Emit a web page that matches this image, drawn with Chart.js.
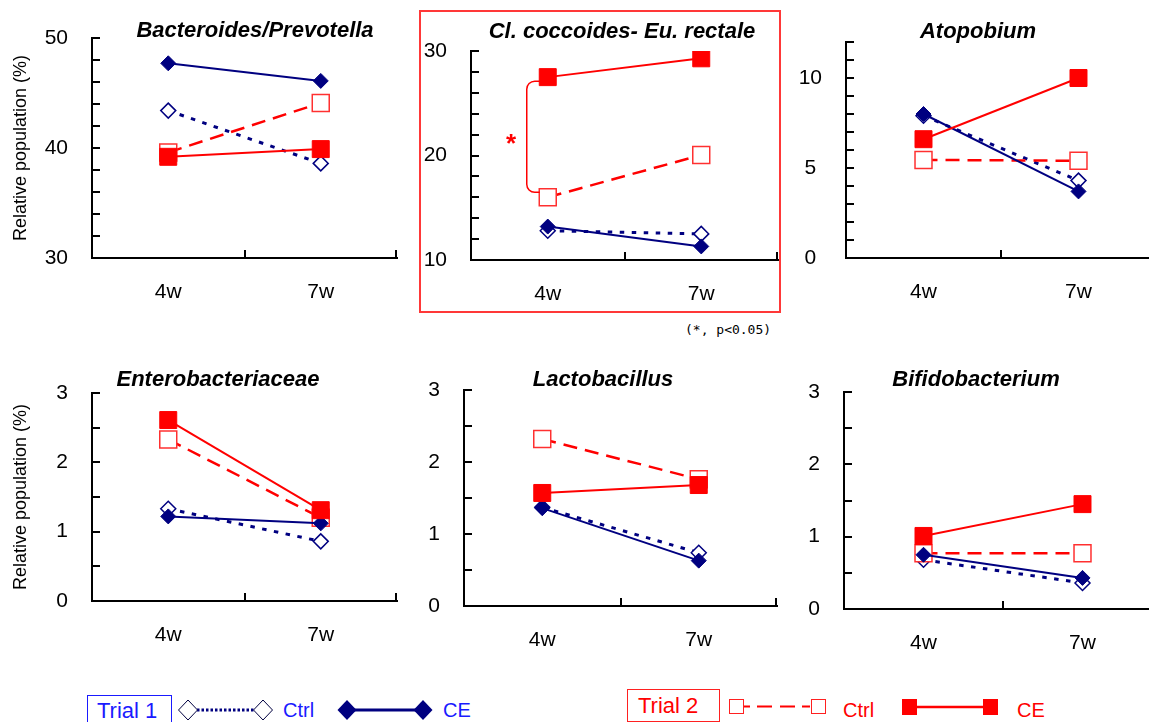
<!DOCTYPE html>
<html>
<head>
<meta charset="utf-8">
<script src="https://cdn.jsdelivr.net/npm/chart.js@4.4.1/dist/chart.umd.min.js"></script>
<style>
  body { margin: 0; width: 1149px; height: 722px; overflow: hidden; background: #fff; position: relative;
         font-family: "Liberation Sans", Arial, sans-serif; }
  canvas { position: absolute; }
  .title { position: absolute; width: 400px; text-align: center; font: italic bold 22px "Liberation Sans", Arial, sans-serif;
           line-height: 24px; color: #000; white-space: nowrap; }
  #hilite { position: absolute; left: 419px; top: 10px; width: 362px; height: 303px; box-sizing: border-box;
            border: 2px solid #ff3838; }
  #star { position: absolute; left: 496px; top: 130px; width: 30px; text-align: center; color: #ff0000;
          font: bold 26px "Liberation Sans", Arial, sans-serif; line-height: 26px; }
  #pnote { position: absolute; left: 685px; top: 322px; font: 13px "DejaVu Sans Mono", monospace; color: #000; }
  #legend { position: absolute; left: 0; top: 680px; }
</style>
</head>
<body>
<div id="hilite"></div>

<canvas id="c0"></canvas>
<canvas id="c1"></canvas>
<canvas id="c2"></canvas>
<canvas id="c3"></canvas>
<canvas id="c4"></canvas>
<canvas id="c5"></canvas>

<div id="star">*</div>
<div id="pnote">(*, p&lt;0.05)</div>

<svg id="legend" width="1149" height="42" font-family="Liberation Sans, Arial, sans-serif">
  <rect x="87.5" y="15.5" width="84" height="32" fill="none" stroke="#1a1aff" stroke-width="1"/>
  <text x="97" y="38" font-size="22" fill="#1a1aff">Trial 1</text>
  <line x1="197" y1="30" x2="254" y2="30" stroke="#000080" stroke-width="3" stroke-dasharray="2.5 2"/>
  <polygon points="178.5,30 188,20 197.5,30 188,40" fill="#fff" stroke="#000040" stroke-width="1"/>
  <polygon points="253.5,30 263,20 272.5,30 263,40" fill="#fff" stroke="#000040" stroke-width="1"/>
  <text x="283" y="37" font-size="20" fill="#1a1aff">Ctrl</text>
  <line x1="350" y1="30" x2="420" y2="30" stroke="#000080" stroke-width="3"/>
  <polygon points="337.5,30 347,20 356.5,30 347,40" fill="#000080"/>
  <polygon points="413.5,30 423,20 432.5,30 423,40" fill="#000080"/>
  <text x="443" y="37" font-size="20" fill="#1a1aff">CE</text>

  <rect x="627.5" y="9.5" width="92" height="32" fill="none" stroke="#ff2020" stroke-width="1"/>
  <text x="638" y="33" font-size="22" fill="#ff0000">Trial 2</text>
  <line x1="744" y1="26.5" x2="811" y2="26.5" stroke="#ff0000" stroke-width="2" stroke-dasharray="6 7 15 8 15 7 8"/>
  <rect x="729.5" y="19.5" width="14" height="14" fill="#fff" stroke="#ff2020" stroke-width="1"/>
  <rect x="811.5" y="19.5" width="14" height="14" fill="#fff" stroke="#ff2020" stroke-width="1"/>
  <text x="843" y="37" font-size="20" fill="#ff0000">Ctrl</text>
  <line x1="917" y1="27" x2="983" y2="27" stroke="#ff0000" stroke-width="2.5"/>
  <rect x="902" y="19" width="15" height="16" fill="#ff0000"/>
  <rect x="983" y="19" width="15" height="16" fill="#ff0000"/>
  <text x="1017" y="37" font-size="20" fill="#ff0000">CE</text>
</svg>

<script>
// ---------------- data ----------------
const weeks = ["4w", "7w"];
const panelTitles = [
  "Bacteroides/Prevotella", "Cl. coccoides- Eu. rectale", "Atopobium",
  "Enterobacteriaceae", "Lactobacillus", "Bifidobacterium",
];

// one [4w, 7w] pair per panel
const trial1Ctrl = [[43.4, 38.6], [12.8, 12.5], [7.9, 4.3], [1.33, 0.86], [1.37, 0.74], [0.68, 0.36]];
const trial1CE   = [[47.7, 46.1], [13.2, 11.3], [8.0, 3.7], [1.22, 1.12], [1.36, 0.63], [0.75, 0.43]];
const trial2Ctrl = [[39.6, 44.1], [16.0, 20.05], [5.45, 5.4], [2.33, 1.2], [2.32, 1.76], [0.77, 0.77]];
const trial2CE   = [[39.2, 39.9], [27.5, 29.3], [6.6, 10.0], [2.61, 1.31], [1.57, 1.68], [1.01, 1.45]];

const yMin = [30, 10, 0, 0, 0, 0];
const yMax = [50, 30, 12, 3, 3, 3];
const yStep = [2, 2, 1, 0.5, 0.5, 0.5];
const yLabelEvery = [10, 10, 5, 1, 1, 1];

// ---------------- layout ----------------
// plot area of each panel in page pixels: left, top, right, bottom
const AREAS = [
  [92, 38, 397, 258], [471, 51, 778, 260], [846, 42, 1156, 258],
  [92, 393, 397, 601], [464, 390, 777, 606], [844, 392, 1162, 609],
];
const TITLE_POS = [[255, 18], [622, 19], [978, 19], [218, 367], [603, 367], [976, 367]];
const NAVY = "#000080";
const RED = "#ff0000";
const PAD_TOP = 14, PAD_RIGHT = 4, X_AXIS_H = 50;

// drop the label-overflow padding chart.js adds, the plot areas are fixed
function noScalePadding(s) {
  s.paddingTop = 0;
  s.paddingBottom = 0;
  s.paddingLeft = 0;
  s.paddingRight = 0;
}

// inward tick marks like the original
const inwardTicks = {
  id: "inwardTicks",
  afterDraw(chart) {
    const { ctx, chartArea: a, scales: { x, y } } = chart;
    ctx.save();
    ctx.strokeStyle = "#000";
    ctx.lineWidth = 2;
    ctx.beginPath();
    y.ticks.forEach((t) => {
      const py = Math.round(y.getPixelForValue(t.value));
      ctx.moveTo(a.left, py);
      ctx.lineTo(a.left + 8, py);
    });
    const mid = Math.round((x.getPixelForValue(0) + x.getPixelForValue(1)) / 2);
    [mid, Math.round(a.right) - 1].forEach((px) => {
      ctx.moveTo(px, a.bottom);
      ctx.lineTo(px, a.bottom - 8);
    });
    ctx.stroke();
    ctx.restore();
  },
};

// significance bracket for panel 2 (4w CE vs Ctrl, trial 2)
const bracket = {
  id: "bracket",
  afterDatasetsDraw(chart, args, opts) {
    if (!opts.on) return;
    const { ctx, scales: { x, y } } = chart;
    const x0 = x.getPixelForValue(0);
    const yTop = y.getPixelForValue(trial2CE[1][0]) + 4;
    const yBot = y.getPixelForValue(trial2Ctrl[1][0]) - 5;
    const left = x0 - 21, r = 8, end = x0 - 8;
    ctx.save();
    ctx.strokeStyle = RED;
    ctx.lineWidth = 1.5;
    ctx.beginPath();
    ctx.moveTo(end, yTop);
    ctx.lineTo(left + r, yTop);
    ctx.arcTo(left, yTop, left, yTop + r, r);
    ctx.lineTo(left, yBot - r);
    ctx.arcTo(left, yBot, left + r, yBot, r);
    ctx.lineTo(end, yBot);
    ctx.stroke();
    ctx.restore();
  },
};

function makePanel(i) {
  const [L, T, R, B] = AREAS[i];
  const axisW = (i === 0 || i === 3) ? 92 : 70;
  const cLeft = L - axisW, cTop = T - PAD_TOP;
  const w = R - cLeft + PAD_RIGHT, h = B + X_AXIS_H - cTop;
  const canvas = document.getElementById("c" + i);
  canvas.style.left = cLeft + "px";
  canvas.style.top = cTop + "px";
  canvas.width = w;
  canvas.height = h;

  const title = document.createElement("div");
  title.className = "title";
  title.textContent = panelTitles[i];
  title.style.left = TITLE_POS[i][0] - 200 + "px";
  title.style.top = TITLE_POS[i][1] + "px";
  document.body.appendChild(title);

  const every = yLabelEvery[i];
  const tickFont = { family: "'Liberation Sans', Arial, sans-serif", size: 21 };

  new Chart(canvas, {
    type: "line",
    data: {
      labels: weeks,
      datasets: [
        {
          label: "Trial 2 CE", data: trial2CE[i], borderColor: RED, backgroundColor: RED,
          borderWidth: 2, pointStyle: "rect", pointRadius: 12, pointBorderWidth: 1, pointBorderColor: RED,
        },
        {
          label: "Trial 1 CE", data: trial1CE[i], borderColor: NAVY, backgroundColor: NAVY,
          borderWidth: 2, pointStyle: "rectRot", pointRadius: 7.5, pointBorderWidth: 1, pointBorderColor: NAVY,
        },
        {
          label: "Trial 2 Ctrl", data: trial2Ctrl[i], borderColor: RED, backgroundColor: "#fff",
          borderWidth: 2.5, borderDash: [14, 8], pointStyle: "rect", pointRadius: 12,
          pointBorderWidth: 1.5, pointBorderColor: "#ff3030",
        },
        {
          label: "Trial 1 Ctrl", data: trial1Ctrl[i], borderColor: NAVY, backgroundColor: "#fff",
          borderWidth: 3, borderDash: [4.5, 7.5], pointStyle: "rectRot", pointRadius: 7.5,
          pointBorderWidth: 1.5, pointBorderColor: NAVY,
        },
      ],
    },
    options: {
      responsive: false,
      animation: false,
      events: [],
      layout: { autoPadding: false, padding: { top: PAD_TOP, right: PAD_RIGHT, left: 0, bottom: 0 } },
      elements: { line: { tension: 0 } },
      plugins: {
        legend: { display: false },
        tooltip: { enabled: false },
        bracket: { on: i === 1 },
      },
      scales: {
        x: {
          type: "category",
          offset: true,
          grid: { display: false, drawTicks: false },
          border: { display: true, color: "#000", width: 2 },
          ticks: { color: "#000", font: tickFont, padding: 22, maxRotation: 0 },
          afterFit: (s) => { s.height = X_AXIS_H; noScalePadding(s); },
        },
        y: {
          min: yMin[i],
          max: yMax[i],
          grid: { display: false, drawTicks: false },
          border: { display: true, color: "#000", width: 2 },
          ticks: {
            stepSize: yStep[i],
            autoSkip: false,
            color: "#000",
            font: tickFont,
            padding: 24,
            crossAlign: "center",
            callback: (v) => (Math.abs(v / every - Math.round(v / every)) < 1e-6 ? v : ""),
          },
          title: {
            display: i === 0 || i === 3,
            text: "Relative population (%)",
            color: "#000",
            font: { family: "'Liberation Sans', Arial, sans-serif", size: 18 },
            padding: { top: 10, bottom: 0 },
          },
          afterFit: (s) => { s.width = axisW; noScalePadding(s); },
        },
      },
    },
    plugins: [inwardTicks, bracket],
  });
}

for (let i = 0; i < 6; i++) makePanel(i);
</script>
</body>
</html>
